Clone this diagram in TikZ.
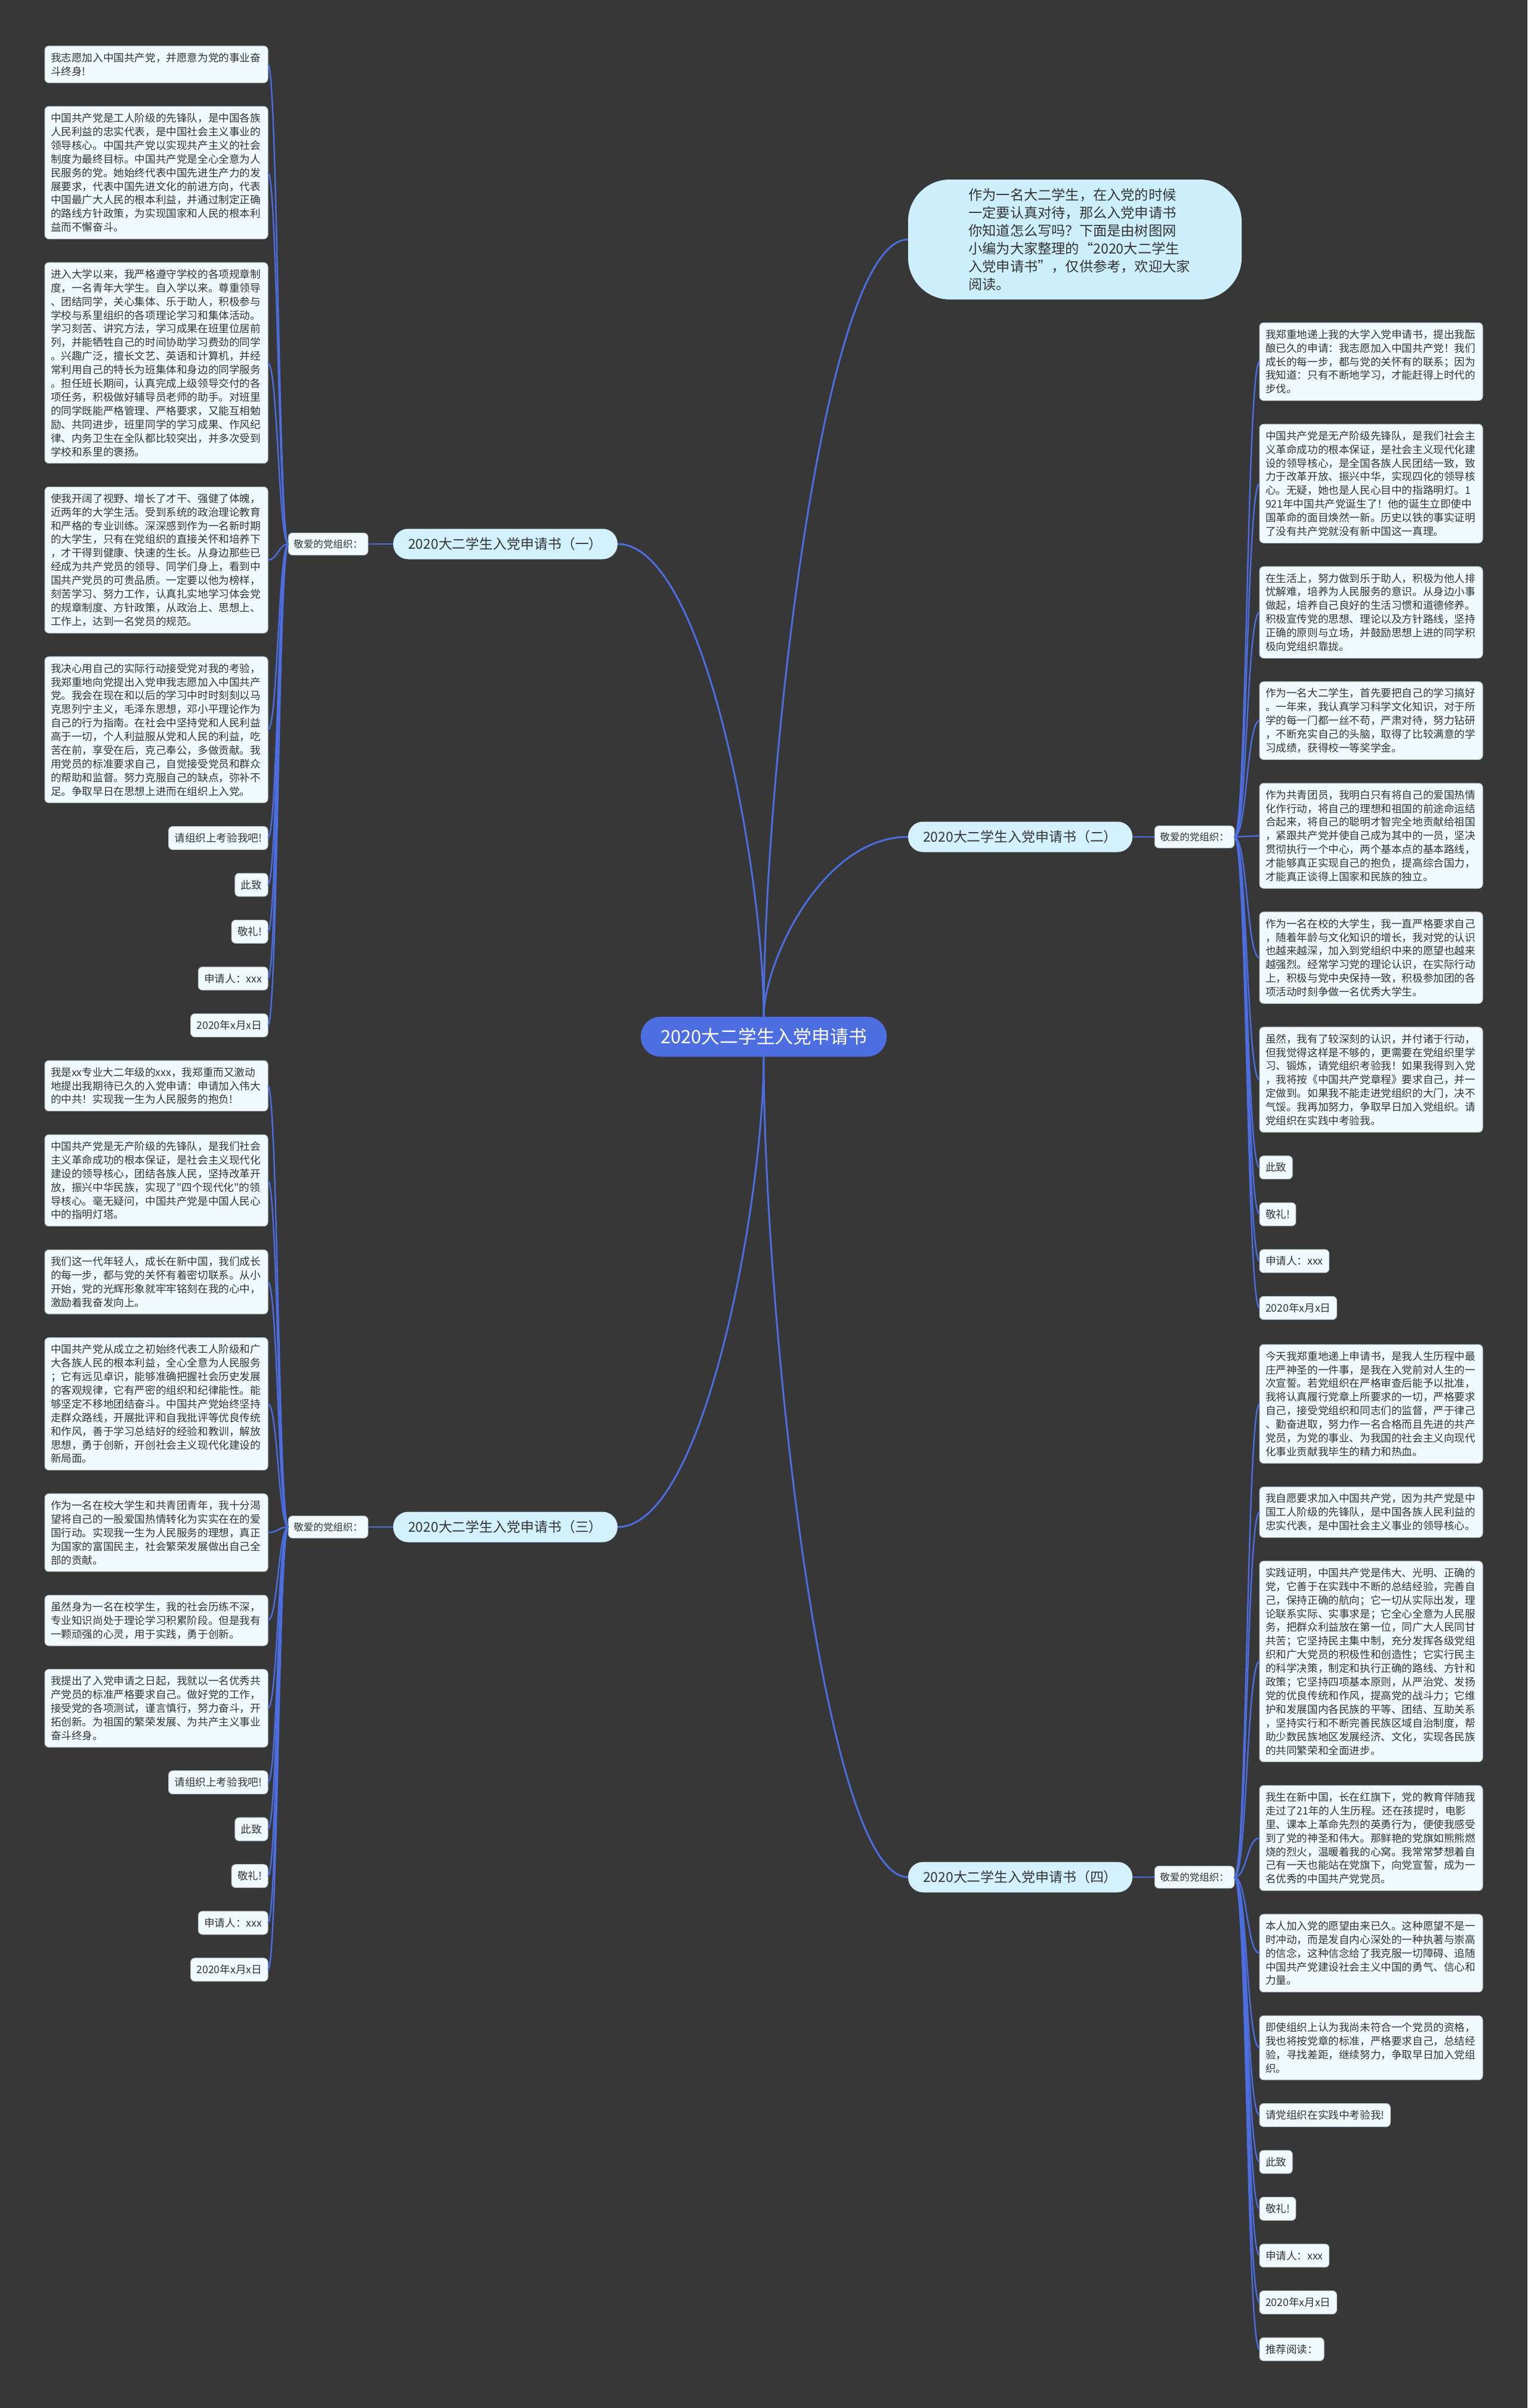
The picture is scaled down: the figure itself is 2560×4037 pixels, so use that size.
\documentclass[tikz,border=0pt]{standalone}
\usepackage{fontspec}
\setmainfont{Noto Sans CJK SC}[Ligatures=TeXOff]
\definecolor{bgc}{HTML}{373737}
\definecolor{linkc}{HTML}{4C6EE0}
\definecolor{leaffill}{HTML}{F0FAFD}
\definecolor{leafline}{HTML}{B9C6CC}
\definecolor{txt}{HTML}{333333}
\definecolor{branchfill}{HTML}{D3F1FD}
\definecolor{bubblefill}{HTML}{CDEFFC}
\begin{document}
\begin{tikzpicture}[x=1pt,y=-1pt,
  leafbase/.style={draw=leafline, line width=1pt, fill=leaffill, rounded corners=7pt, text=txt, font=\fontsize{17.6pt}{22.9pt}\selectfont, inner xsep=10pt, inner ysep=0pt, outer sep=0pt},
  leafbig/.style={leafbase, text width=354pt, align=left, minimum height={#1*22.9pt+16pt}},
  leafsmall/.style={leafbase, minimum height=38.9pt},
  orglabel/.style={leafbase, font=\fontsize{16.5pt}{20pt}\selectfont, minimum height=37pt, inner xsep=9pt},
  conn/.style={draw=linkc, line width=2.4pt},
  mainconn/.style={draw=linkc, line width=3pt},
  branch/.style={fill=branchfill, rounded corners=25pt, text=txt, font=\fontsize{22.9pt}{27pt}\selectfont, minimum width=376pt, minimum height=51pt, inner sep=0pt}]
\useasboundingbox (0,0) rectangle (2560,4037);
\fill[bgc] (0,0) rectangle (2560,4037);

% center and topic bubble
\node[fill=linkc, text=white, rounded corners=33pt, minimum width=412pt, minimum height=67pt, inner sep=0pt, font=\fontsize{30.8pt}{36pt}\selectfont] (C) at (1280,1738) {2020大二学生入党申请书};
\node[fill=bubblefill, rounded corners=70pt, minimum width=559pt, minimum height=201pt, text width=356pt, align=left, text=txt, font=\fontsize{23.2pt}{30pt}\selectfont] (T) at (1801.5,401.5) {作为一名大二学生，在入党的时候\\一定要认真对待，那么入党申请书\\你知道怎么写吗？下面是由树图网\\小编为大家整理的“2020大二学生\\入党申请书”，仅供参考，欢迎大家\\阅读。};

% branches
\node[branch] (N1) at (847,912) {2020大二学生入党申请书（一）};
\node[branch] (N2) at (1710,1403) {2020大二学生入党申请书（二）};
\node[branch] (N3) at (847,2560) {2020大二学生入党申请书（三）};
\node[branch] (N4) at (1710,3147) {2020大二学生入党申请书（四）};

\node[orglabel] (L1) at (550,912) {敬爱的党组织：};
\node[orglabel] (R2) at (2002,1403) {敬爱的党组织：};
\node[orglabel] (L3) at (550,2560) {敬爱的党组织：};
\node[orglabel] (R4) at (2002,3147) {敬爱的党组织：};

% group 1 (left)
\node[leafbig=2, anchor=north east] (A1) at (449,77) {我志愿加入中国共产党，并愿意为党的事业奋\\斗终身!};
\node[leafbig=9, anchor=north east] (A2) at ([yshift=-39.6pt]A1.south east) {中国共产党是工人阶级的先锋队，是中国各族\\人民利益的忠实代表，是中国社会主义事业的\\领导核心。中国共产党以实现共产主义的社会\\制度为最终目标。中国共产党是全心全意为人\\民服务的党。她始终代表中国先进生产力的发\\展要求，代表中国先进文化的前进方向，代表\\中国最广大人民的根本利益，并通过制定正确\\的路线方针政策，为实现国家和人民的根本利\\益而不懈奋斗。};
\node[leafbig=14, anchor=north east] (A3) at ([yshift=-39.6pt]A2.south east) {进入大学以来，我严格遵守学校的各项规章制\\度，一名青年大学生。自入学以来。尊重领导\\、团结同学，关心集体、乐于助人，积极参与\\学校与系里组织的各项理论学习和集体活动。\\学习刻苦、讲究方法，学习成果在班里位居前\\列，并能牺牲自己的时间协助学习费劲的同学\\。兴趣广泛，擅长文艺、英语和计算机，并经\\常利用自己的特长为班集体和身边的同学服务\\。担任班长期间，认真完成上级领导交付的各\\项任务，积极做好辅导员老师的助手。对班里\\的同学既能严格管理、严格要求，又能互相勉\\励、共同进步，班里同学的学习成果、作风纪\\律、内务卫生在全队都比较突出，并多次受到\\学校和系里的褒扬。};
\node[leafbig=10, anchor=north east] (A4) at ([yshift=-39.6pt]A3.south east) {使我开阔了视野、增长了才干、强健了体魄，\\近两年的大学生活。受到系统的政治理论教育\\和严格的专业训练。深深感到作为一名新时期\\的大学生，只有在党组织的直接关怀和培养下\\，才干得到健康、快速的生长。从身边那些已\\经成为共产党员的领导、同学们身上，看到中\\国共产党员的可贵品质。一定要以他为榜样，\\刻苦学习、努力工作，认真扎实地学习体会党\\的规章制度、方针政策，从政治上、思想上、\\工作上，达到一名党员的规范。};
\node[leafbig=10, anchor=north east] (A5) at ([yshift=-39.6pt]A4.south east) {我决心用自己的实际行动接受党对我的考验，\\我郑重地向党提出入党申我志愿加入中国共产\\党。我会在现在和以后的学习中时时刻刻以马\\克思列宁主义，毛泽东思想，邓小平理论作为\\自己的行为指南。在社会中坚持党和人民利益\\高于一切，个人利益服从党和人民的利益，吃\\苦在前，享受在后，克己奉公，多做贡献。我\\用党员的标准要求自己，自觉接受党员和群众\\的帮助和监督。努力克服自己的缺点，弥补不\\足。争取早日在思想上进而在组织上入党。};
\node[leafsmall, anchor=north east] (A6) at ([yshift=-39.6pt]A5.south east) {请组织上考验我吧!};
\node[leafsmall, anchor=north east] (A7) at ([yshift=-39.6pt]A6.south east) {此致};
\node[leafsmall, anchor=north east] (A8) at ([yshift=-39.6pt]A7.south east) {敬礼!};
\node[leafsmall, anchor=north east] (A9) at ([yshift=-39.6pt]A8.south east) {申请人：xxx};
\node[leafsmall, anchor=north east] (A10) at ([yshift=-39.6pt]A9.south east) {2020年x月x日};

% group 3 (left)
\node[leafbig=3, anchor=north east] (B1) at (449,1778) {我是xx专业大二年级的xxx，我郑重而又激动\\地提出我期待已久的入党申请：申请加入伟大\\的中共！实现我一生为人民服务的抱负!};
\node[leafbig=6, anchor=north east] (B2) at ([yshift=-39.6pt]B1.south east) {中国共产党是无产阶级的先锋队，是我们社会\\主义革命成功的根本保证，是社会主义现代化\\建设的领导核心，团结各族人民，坚持改革开\\放，振兴中华民族，实现了"四个现代化"的领\\导核心。毫无疑问，中国共产党是中国人民心\\中的指明灯塔。};
\node[leafbig=4, anchor=north east] (B3) at ([yshift=-39.6pt]B2.south east) {我们这一代年轻人，成长在新中国，我们成长\\的每一步，都与党的关怀有着密切联系。从小\\开始，党的光辉形象就牢牢铭刻在我的心中，\\激励着我奋发向上。};
\node[leafbig=9, anchor=north east] (B4) at ([yshift=-39.6pt]B3.south east) {中国共产党从成立之初始终代表工人阶级和广\\大各族人民的根本利益，全心全意为人民服务\\；它有远见卓识，能够准确把握社会历史发展\\的客观规律，它有严密的组织和纪律能性。能\\够坚定不移地团结奋斗。中国共产党始终坚持\\走群众路线，开展批评和自我批评等优良传统\\和作风，善于学习总结好的经验和教训，解放\\思想，勇于创新，开创社会主义现代化建设的\\新局面。};
\node[leafbig=5, anchor=north east] (B5) at ([yshift=-39.6pt]B4.south east) {作为一名在校大学生和共青团青年，我十分渴\\望将自己的一股爱国热情转化为实实在在的爱\\国行动。实现我一生为人民服务的理想，真正\\为国家的富国民主，社会繁荣发展做出自己全\\部的贡献。};
\node[leafbig=3, anchor=north east] (B6) at ([yshift=-39.6pt]B5.south east) {虽然身为一名在校学生，我的社会历练不深，\\专业知识尚处于理论学习积累阶段。但是我有\\一颗顽强的心灵，用于实践，勇于创新。};
\node[leafbig=5, anchor=north east] (B7) at ([yshift=-39.6pt]B6.south east) {我提出了入党申请之日起，我就以一名优秀共\\产党员的标准严格要求自己。做好党的工作，\\接受党的各项测试，谨言慎行，努力奋斗，开\\拓创新。为祖国的繁荣发展、为共产主义事业\\奋斗终身。};
\node[leafsmall, anchor=north east] (B8) at ([yshift=-39.6pt]B7.south east) {请组织上考验我吧!};
\node[leafsmall, anchor=north east] (B9) at ([yshift=-39.6pt]B8.south east) {此致};
\node[leafsmall, anchor=north east] (B10) at ([yshift=-39.6pt]B9.south east) {敬礼!};
\node[leafsmall, anchor=north east] (B11) at ([yshift=-39.6pt]B10.south east) {申请人：xxx};
\node[leafsmall, anchor=north east] (B12) at ([yshift=-39.6pt]B11.south east) {2020年x月x日};

% group 2 (right)
\node[leafbig=5, anchor=north west] (C1) at (2111,541) {我郑重地递上我的大学入党申请书，提出我酝\\酿已久的申请：我志愿加入中国共产党！我们\\成长的每一步，都与党的关怀有的联系；因为\\我知道：只有不断地学习，才能赶得上时代的\\步伐。};
\node[leafbig=8, anchor=north west] (C2) at ([yshift=-39.6pt]C1.south west) {中国共产党是无产阶级先锋队，是我们社会主\\义革命成功的根本保证，是社会主义现代化建\\设的领导核心，是全国各族人民团结一致，致\\力于改革开放、振兴中华，实现四化的领导核\\心。无疑，她也是人民心目中的指路明灯。1\\921年中国共产党诞生了！他的诞生立即使中\\国革命的面目焕然一新。历史以铁的事实证明\\了没有共产党就没有新中国这一真理。};
\node[leafbig=6, anchor=north west] (C3) at ([yshift=-39.6pt]C2.south west) {在生活上，努力做到乐于助人，积极为他人排\\忧解难，培养为人民服务的意识。从身边小事\\做起，培养自己良好的生活习惯和道德修养。\\积极宣传党的思想、理论以及方针路线，坚持\\正确的原则与立场，并鼓励思想上进的同学积\\极向党组织靠拢。};
\node[leafbig=5, anchor=north west] (C4) at ([yshift=-39.6pt]C3.south west) {作为一名大二学生，首先要把自己的学习搞好\\。一年来，我认真学习科学文化知识，对于所\\学的每一门都一丝不苟，严肃对待，努力钻研\\，不断充实自己的头脑，取得了比较满意的学\\习成绩，获得校一等奖学金。};
\node[leafbig=7, anchor=north west] (C5) at ([yshift=-39.6pt]C4.south west) {作为共青团员，我明白只有将自己的爱国热情\\化作行动，将自己的理想和祖国的前途命运结\\合起来，将自己的聪明才智完全地贡献给祖国\\，紧跟共产党并使自己成为其中的一员，坚决\\贯彻执行一个中心，两个基本点的基本路线，\\才能够真正实现自己的抱负，提高综合国力，\\才能真正谈得上国家和民族的独立。};
\node[leafbig=6, anchor=north west] (C6) at ([yshift=-39.6pt]C5.south west) {作为一名在校的大学生，我一直严格要求自己\\，随着年龄与文化知识的增长，我对党的认识\\也越来越深，加入到党组织中来的愿望也越来\\越强烈。经常学习党的理论认识，在实际行动\\上，积极与党中央保持一致，积极参加团的各\\项活动时刻争做一名优秀大学生。};
\node[leafbig=7, anchor=north west] (C7) at ([yshift=-39.6pt]C6.south west) {虽然，我有了较深刻的认识，并付诸于行动，\\但我觉得这样是不够的，更需要在党组织里学\\习、锻炼，请党组织考验我！如果我得到入党\\，我将按《中国共产党章程》要求自己，并一\\定做到。如果我不能走进党组织的大门，决不\\气馁。我再加努力，争取早日加入党组织。请\\党组织在实践中考验我。};
\node[leafsmall, anchor=north west] (C8) at ([yshift=-39.6pt]C7.south west) {此致};
\node[leafsmall, anchor=north west] (C9) at ([yshift=-39.6pt]C8.south west) {敬礼!};
\node[leafsmall, anchor=north west] (C10) at ([yshift=-39.6pt]C9.south west) {申请人：xxx};
\node[leafsmall, anchor=north west] (C11) at ([yshift=-39.6pt]C10.south west) {2020年x月x日};

% group 4 (right)
\node[leafbig=8, anchor=north west] (D1) at (2111,2254) {今天我郑重地递上申请书，是我人生历程中最\\庄严神圣的一件事，是我在入党前对人生的一\\次宣誓。若党组织在严格审查后能予以批准，\\我将认真履行党章上所要求的一切，严格要求\\自己，接受党组织和同志们的监督，严于律己\\、勤奋进取，努力作一名合格而且先进的共产\\党员，为党的事业、为我国的社会主义向现代\\化事业贡献我毕生的精力和热血。};
\node[leafbig=3, anchor=north west] (D2) at ([yshift=-39.6pt]D1.south west) {我自愿要求加入中国共产党，因为共产党是中\\国工人阶级的先锋队，是中国各族人民利益的\\忠实代表，是中国社会主义事业的领导核心。};
\node[leafbig=14, anchor=north west] (D3) at ([yshift=-39.6pt]D2.south west) {实践证明，中国共产党是伟大、光明、正确的\\党，它善于在实践中不断的总结经验，完善自\\己，保持正确的航向；它一切从实际出发，理\\论联系实际、实事求是；它全心全意为人民服\\务，把群众利益放在第一位，同广大人民同甘\\共苦；它坚持民主集中制，充分发挥各级党组\\织和广大党员的积极性和创造性；它实行民主\\的科学决策，制定和执行正确的路线、方针和\\政策；它坚持四项基本原则，从严治党、发扬\\党的优良传统和作风，提高党的战斗力；它维\\护和发展国内各民族的平等、团结、互助关系\\，坚持实行和不断完善民族区域自治制度，帮\\助少数民族地区发展经济、文化，实现各民族\\的共同繁荣和全面进步。};
\node[leafbig=7, anchor=north west] (D4) at ([yshift=-39.6pt]D3.south west) {我生在新中国，长在红旗下，党的教育伴随我\\走过了21年的人生历程。还在孩提时，电影\\里、课本上革命先烈的英勇行为，便使我感受\\到了党的神圣和伟大。那鲜艳的党旗如熊熊燃\\烧的烈火，温暖着我的心窝。我常常梦想着自\\己有一天也能站在党旗下，向党宣誓，成为一\\名优秀的中国共产党党员。};
\node[leafbig=5, anchor=north west] (D5) at ([yshift=-39.6pt]D4.south west) {本人加入党的愿望由来已久。这种愿望不是一\\时冲动，而是发自内心深处的一种执著与崇高\\的信念，这种信念给了我克服一切障碍、追随\\中国共产党建设社会主义中国的勇气、信心和\\力量。};
\node[leafbig=4, anchor=north west] (D6) at ([yshift=-39.6pt]D5.south west) {即使组织上认为我尚未符合一个党员的资格，\\我也将按党章的标准，严格要求自己，总结经\\验，寻找差距，继续努力，争取早日加入党组\\织。};
\node[leafsmall, anchor=north west] (D7) at ([yshift=-39.6pt]D6.south west) {请党组织在实践中考验我!};
\node[leafsmall, anchor=north west] (D8) at ([yshift=-39.6pt]D7.south west) {此致};
\node[leafsmall, anchor=north west] (D9) at ([yshift=-39.6pt]D8.south west) {敬礼!};
\node[leafsmall, anchor=north west] (D10) at ([yshift=-39.6pt]D9.south west) {申请人：xxx};
\node[leafsmall, anchor=north west] (D11) at ([yshift=-39.6pt]D10.south west) {2020年x月x日};
\node[leafsmall, anchor=north west] (D12) at ([yshift=-39.6pt]D11.south west) {推荐阅读：};

% connectors from center
\draw[mainconn] (C.north) .. controls (1280,1314) and (1377,401.5) .. (T.west);
\draw[mainconn] (C.north) .. controls (1280,1467) and (1182,912) .. (N1.east);
\draw[mainconn] (C.north) .. controls (1280,1614) and (1377,1403) .. (N2.west);
\draw[mainconn] (C.south) .. controls (1280,2008) and (1182,2560) .. (N3.east);
\draw[mainconn] (C.south) .. controls (1280,2184) and (1377,3147) .. (N4.west);

\draw[conn] (N1.west) -- (L1.east);
\draw[conn] (N2.east) -- (R2.west);
\draw[conn] (N3.west) -- (L3.east);
\draw[conn] (N4.east) -- (R4.west);

\foreach \n in {A1,A2,A3,A4,A5,A6,A7,A8,A9,A10}
  \draw[conn] (L1.west) .. controls ([xshift=-16.5pt]L1.west) and ([xshift=16.5pt]\n.east) .. (\n.east);
\foreach \n in {B1,B2,B3,B4,B5,B6,B7,B8,B9,B10,B11,B12}
  \draw[conn] (L3.west) .. controls ([xshift=-16.5pt]L3.west) and ([xshift=16.5pt]\n.east) .. (\n.east);
\foreach \n in {C1,C2,C3,C4,C5,C6,C7,C8,C9,C10,C11}
  \draw[conn] (R2.east) .. controls ([xshift=21.5pt]R2.east) and ([xshift=-21.5pt]\n.west) .. (\n.west);
\foreach \n in {D1,D2,D3,D4,D5,D6,D7,D8,D9,D10,D11,D12}
  \draw[conn] (R4.east) .. controls ([xshift=21.5pt]R4.east) and ([xshift=-21.5pt]\n.west) .. (\n.west);
\end{tikzpicture}
\end{document}
